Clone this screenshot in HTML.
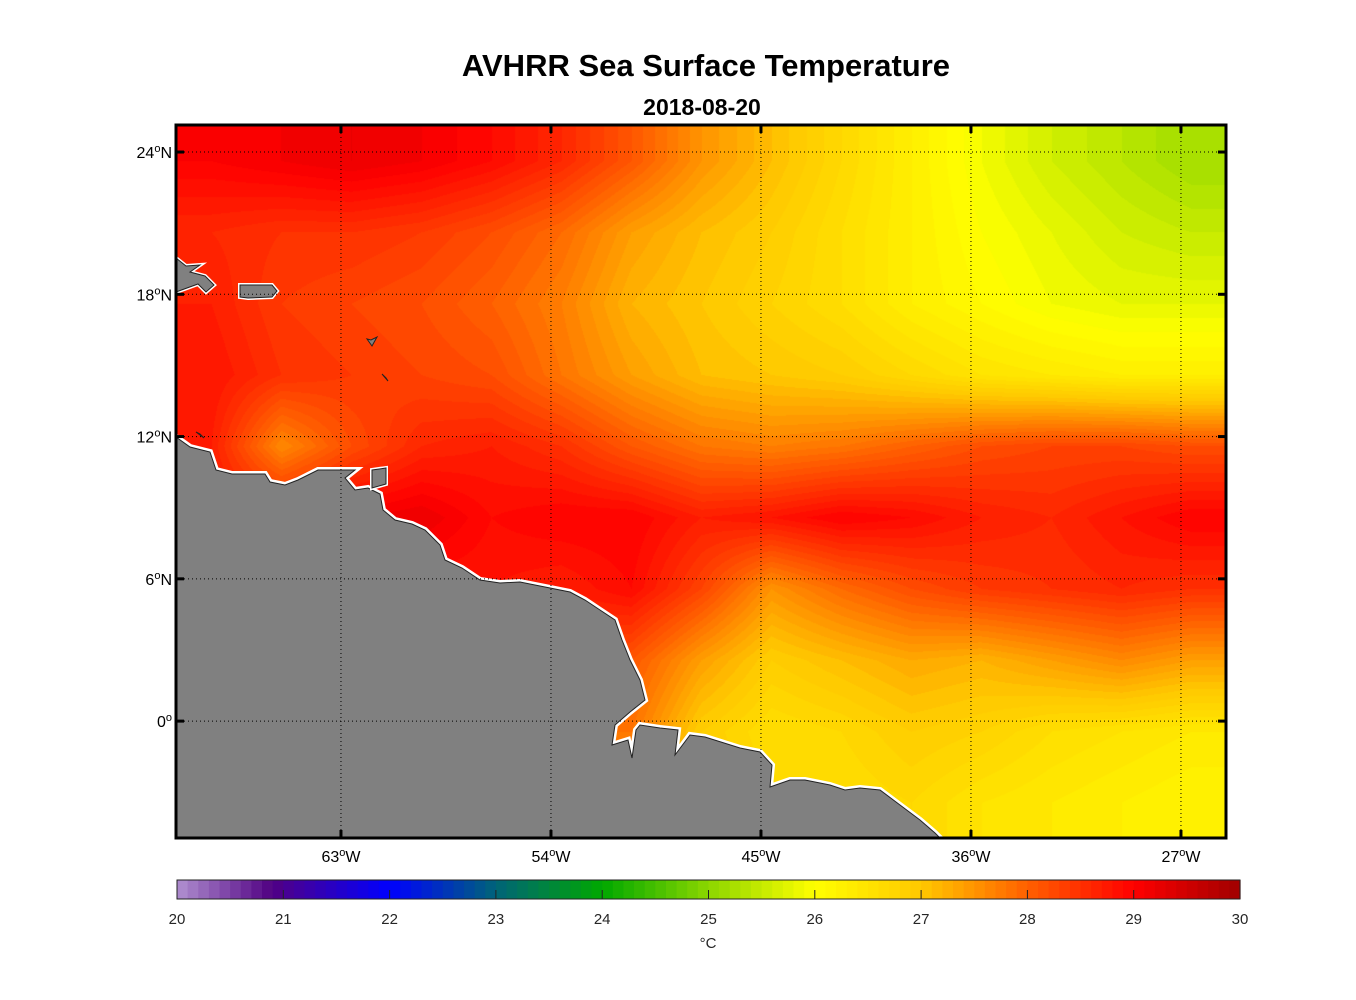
<!DOCTYPE html>
<html><head><meta charset="utf-8"><style>
body{margin:0;background:#fff;width:1356px;height:1000px;overflow:hidden;font-family:"Liberation Sans",Arial,sans-serif}
#wrap{position:relative;width:1356px;height:1000px}
canvas{position:absolute;left:176px;top:125px}
svg{position:absolute;left:0;top:0}
</style></head><body><div id="wrap">
<canvas id="sst" width="1050" height="713"></canvas>
<svg id="ov" width="1356" height="1000"></svg>
</div>
<script>
// SST grid: 3° cells, lon 70W..25W (15 cols), lat 25N..5S (10 rows), °C
const lonEdges=[-70.07,-25.07];
const latEdges=[25.14,-4.93];
const sstRows=[
[29.0,29.1,29.2,29.1,28.9,28.6,28.1,27.5,27.1,26.7,26.3,25.9,25.6,25.4,25.2],
[28.6,28.5,28.5,28.4,28.2,27.9,27.4,27.1,26.9,26.6,26.3,26.0,25.8,25.6,25.5],
[28.7,28.4,28.3,28.2,28.0,27.7,27.2,27.0,26.8,26.6,26.3,26.1,25.9,25.8,25.8],
[28.8,28.5,28.4,28.3,28.2,27.8,27.4,27.1,27.0,26.9,26.7,26.5,26.4,26.3,26.3],
[28.7,27.6,28.2,28.6,28.7,28.5,28.1,27.8,27.7,27.8,28.0,28.2,28.3,28.3,28.2],
[28.8,28.8,29.1,29.2,28.9,29.0,29.0,28.7,28.8,29.0,28.9,28.7,28.6,28.8,29.0],
[28.8,28.8,28.8,28.8,28.8,28.7,28.9,28.3,27.5,27.9,28.2,28.4,28.5,28.6,28.5],
[28.3,28.3,28.3,28.3,28.3,28.3,28.1,27.4,26.9,27.1,27.3,27.2,27.4,27.6,27.4],
[27.8,27.8,27.8,27.8,27.8,27.8,27.8,26.9,26.6,26.7,26.9,26.8,26.6,26.5,26.4],
[27.4,27.4,27.4,27.4,27.4,27.4,27.4,27.0,26.7,26.6,26.7,26.5,26.4,26.3,26.2]];
const cbTicks=[20,21,22,23,24,25,26,27,28,29,30];
const lonTicks=[-63,-54,-45,-36,-27];
const latTicks=[24,18,12,6,0];
const cmapStops=[[20,[176,144,208]],[20.9,[80,0,130]],[21,[74,0,144]],[22,[0,0,255]],[23,[0,100,120]],[24,[0,168,0]],[25,[140,214,0]],[26,[255,255,0]],[27,[255,200,0]],[28,[255,96,0]],[29,[255,0,0]],[30,[160,0,0]]];
function cmap(v){v=Math.max(20,Math.min(29.99,v));v=Math.floor(v*10)/10+0.05;
 for(let i=0;i<cmapStops.length-1;i++){const a=cmapStops[i],b=cmapStops[i+1];if(v>=a[0]&&v<=b[0]){const t=(v-a[0])/(b[0]-a[0]);return a[1].map((c,k)=>Math.round(c+(b[1][k]-c)*t));}}
 return cmapStops[cmapStops.length-1][1];}
const X0=176,X1=1226,Y0=125,Y1=838;
const xs=lon=>X0+(lon-lonEdges[0])/(lonEdges[1]-lonEdges[0])*(X1-X0);
const ys=lat=>Y0+(latEdges[0]-lat)/(latEdges[0]-latEdges[1])*(Y1-Y0);
(function(){const c=document.getElementById('sst').getContext('2d');const W=1050,H=713;const img=c.createImageData(W,H);
 const nr=sstRows.length,nc=sstRows[0].length;
 for(let py=0;py<H;py++){const gy=Math.max(0,Math.min(nr-1.001,py/H*nr-0.5));const r0=Math.floor(gy),ty=gy-r0;
  for(let px=0;px<W;px++){const gx=Math.max(0,Math.min(nc-1.001,px/W*nc-0.5));const c0=Math.floor(gx),tx=gx-c0;
   const v=(sstRows[r0][c0]*(1-tx)+sstRows[r0][c0+1]*tx)*(1-ty)+(sstRows[r0+1][c0]*(1-tx)+sstRows[r0+1][c0+1]*tx)*ty;
   const col=cmap(v);const i=(py*W+px)*4;img.data[i]=col[0];img.data[i+1]=col[1];img.data[i+2]=col[2];img.data[i+3]=255;}}
 c.putImageData(img,0,0);})();
const NS='http://www.w3.org/2000/svg';const svg=document.getElementById('ov');
function mk(tag,attrs,parent){const e=document.createElementNS(NS,tag);for(const k in attrs)e.setAttribute(k,attrs[k]);(parent||svg).appendChild(e);return e;}
const land="176,437 190,447 210,452 216,470 232,474 265,474 270,482 285,485 298,480 318,470 355,470 345,478 355,490 368,488 380,494 383,510 395,520 412,524 425,530 440,545 445,560 462,568 480,580 500,583 520,582 545,587 570,592 585,600 600,610 615,620 622,640 630,660 640,680 645,700 630,712 615,725 612,745 628,740 632,758 636,730 640,725 660,728 678,730 675,755 690,735 705,737 740,748 760,752 772,765 770,787 790,780 805,780 830,785 845,790 860,788 880,790 900,805 920,820 935,833 940,838 176,838";
let e=mk('polygon',{points:land,fill:'#fff',stroke:'#fff','stroke-width':6,'stroke-linejoin':'miter'});

const islands=[["176,258 186,266 200,265 190,272 205,276 214,285 206,292 198,284 176,292",'hispaniola'],["240,285 272,285 277,291 272,297 248,298 240,297",'puerto-rico'],["367,339 372,346 377,337 371,340",'guadeloupe'],["382,374 388,381 386,378",'barbados'],["196,432 204,438 200,434",'tobago'],["372,470 386,468 386,484 372,488",'trinidad']];
e=mk('polygon',{points:land,fill:'#808080',stroke:'#222','stroke-width':1});

islands.forEach(([p,n],i)=>{if(i<2||i==5)mk('polygon',{points:p,fill:'#fff',stroke:'#fff','stroke-width':4});
 const g=mk('polygon',{points:p,fill:(i==3||i==4)?'#222':'#808080',stroke:'#222','stroke-width':1});
 });
lonTicks.forEach(l=>{const x=xs(l);const g=mk('line',{x1:x,x2:x,y1:Y0,y2:Y1,stroke:'#000','stroke-width':1,'stroke-dasharray':'1,3'});
 
 mk('line',{x1:x,x2:x,y1:Y0,y2:Y0+8,stroke:'#000','stroke-width':3});mk('line',{x1:x,x2:x,y1:Y1-8,y2:Y1,stroke:'#000','stroke-width':3});
 const t=mk('text',{x:x,y:Y1+24,'font-size':16,'text-anchor':'middle'});t.innerHTML=Math.abs(l)+'<tspan dy="-6" font-size="11">o</tspan><tspan dy="6">W</tspan>';
 });
latTicks.forEach(l=>{const y=ys(l);const g=mk('line',{x1:X0,x2:X1,y1:y,y2:y,stroke:'#000','stroke-width':1,'stroke-dasharray':'1,3'});
 
 mk('line',{x1:X0,x2:X0+8,y1:y,y2:y,stroke:'#000','stroke-width':3});mk('line',{x1:X1-8,x2:X1,y1:y,y2:y,stroke:'#000','stroke-width':3});
 const t=mk('text',{x:X0-4,y:y+6,'font-size':16,'text-anchor':'end'});t.innerHTML=Math.abs(l)+'<tspan dy="-6" font-size="11">o</tspan><tspan dy="6">'+(l>0?'N':'')+'</tspan>';
 });
e=mk('rect',{x:X0,y:Y0,width:X1-X0,height:Y1-Y0,fill:'none',stroke:'#000','stroke-width':3});

e=mk('text',{x:706,y:76,'font-size':31,'font-weight':'bold','text-anchor':'middle'});e.textContent='AVHRR Sea Surface Temperature';

e=mk('text',{x:702,y:115,'font-size':23,'font-weight':'bold','text-anchor':'middle'});e.textContent='2018-08-20';

const CB0=177,CB1=1240,CBY=880,CBH=19;const cbx=v=>CB0+(v-20)/10*(CB1-CB0);
for(let v=20;v<30;v+=0.1){const r=mk('rect',{x:cbx(v),y:CBY,width:(CB1-CB0)/100+0.6,height:CBH,fill:'rgb('+cmap(v+0.01).join(',')+')'});
 }
e=mk('rect',{x:CB0,y:CBY,width:CB1-CB0,height:CBH,fill:'none',stroke:'#222','stroke-width':1});

cbTicks.forEach(v=>{const x=cbx(v);if(v>20&&v<30)mk('line',{x1:x,x2:x,y1:CBY+CBH-9,y2:CBY+CBH,stroke:'#222','stroke-width':1});
 const t=mk('text',{x:x,y:924,'font-size':15,'text-anchor':'middle',fill:'#262626'});t.textContent=v;
 });
e=mk('text',{x:708,y:948,'font-size':15,'text-anchor':'middle',fill:'#262626'});e.textContent='°C';

</script></body></html>
